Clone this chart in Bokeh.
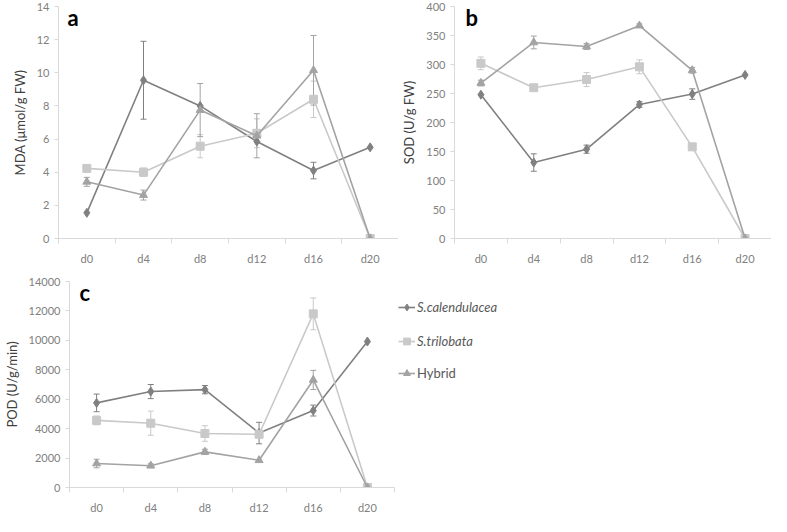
import numpy as np
from bokeh.plotting import figure
from bokeh.models import (Range1d, FixedTicker, ColumnDataSource, Whisker, TeeHead,
                          Legend, LegendItem, Label)
from bokeh.layouts import column, row
from bokeh.embed import file_html
from bokeh.resources import INLINE

# ---------------- data ----------------
days = ["d0", "d4", "d8", "d12", "d16", "d20"]
series_names = ["S.calendulacea", "S.trilobata", "Hybrid"]

mda_cal = [1.55, 9.55, 8.0, 5.85, 4.1, 5.5]
mda_cal_err = [0, 2.35, 0, 0, 0.5, 0]
mda_tri = [4.23, 4.0, 5.57, 6.35, 8.4, 0]
mda_tri_err = [0, 0.25, 0.7, 0.87, 1.1, 0]
mda_hyb = [3.42, 2.62, 7.75, 6.2, 10.15, 0]
mda_hyb_err = [0.27, 0.3, 1.6, 1.33, 2.1, 0]

sod_cal = [248, 131, 154, 231, 249, 282]
sod_cal_err = [0, 15, 7, 5, 9, 0]
sod_tri = [302, 260, 274, 296, 158, 0]
sod_tri_err = [11, 0, 12, 12, 5, 0]
sod_hyb = [268, 338, 331, 367, 290, 0]
sod_hyb_err = [5, 11, 5, 3, 5, 0]

pod_cal = [5750, 6520, 6650, 3700, 5230, 9920]
pod_cal_err = [600, 480, 280, 730, 370, 0]
pod_tri = [4560, 4370, 3670, 3620, 11800, 0]
pod_tri_err = [300, 820, 530, 0, 1080, 0]
pod_hyb = [1630, 1480, 2420, 1850, 7310, 0]
pod_hyb_err = [290, 130, 180, 0, 650, 0]

# ---------------- style ----------------
colors = ["#808080", "#c9c9c9", "#a3a3a3"]
markers = ["diamond", "square", "triangle"]
msizes = [9, 8, 8]
FONT = "Lato"
TICK_COLOR = "#808080"
AXIS_COLOR = "#d9d9d9"
TITLE_COLOR = "#404040"

xs = np.arange(len(days)) + 0.5


def make_panel(width, height, ymax, ystep, ylabel, letter, series, errs,
               bl, br, bt, bb, letter_dx):
    p = figure(width=width, height=height, x_range=Range1d(0, len(days)),
               y_range=Range1d(0, ymax), output_backend="svg",
               toolbar_location=None, min_border_left=bl, min_border_right=br,
               min_border_top=bt, min_border_bottom=bb)
    p.outline_line_color = None
    p.grid.visible = False
    p.background_fill_color = "white"
    p.border_fill_color = "white"

    xa = p.xaxis[0]
    xa.ticker = FixedTicker(ticks=list(xs), minor_ticks=list(range(len(days) + 1)))
    xa.major_label_overrides = {float(x): d for x, d in zip(xs, days)}
    xa.major_tick_in = 0
    xa.major_tick_out = 0
    xa.minor_tick_in = 0
    xa.minor_tick_out = 5
    xa.minor_tick_line_color = AXIS_COLOR
    xa.axis_line_color = AXIS_COLOR
    xa.major_label_text_font = FONT
    xa.major_label_text_font_size = "11px"
    xa.major_label_text_color = TICK_COLOR
    xa.major_label_standoff = 8

    ya = p.yaxis[0]
    ya.ticker = FixedTicker(ticks=list(np.arange(0, ymax + ystep / 2, ystep)))
    ya.minor_tick_line_color = None
    ya.major_tick_in = 0
    ya.major_tick_out = 4
    ya.major_tick_line_color = AXIS_COLOR
    ya.axis_line_color = AXIS_COLOR
    ya.major_label_text_font = FONT
    ya.major_label_text_font_size = "11px"
    ya.major_label_text_color = TICK_COLOR
    ya.major_label_standoff = 5
    ya.axis_label = ylabel
    ya.axis_label_text_font = FONT
    ya.axis_label_text_font_size = "13px"
    ya.axis_label_text_font_style = "normal"
    ya.axis_label_text_color = TITLE_COLOR
    ya.axis_label_standoff = 6

    for vals, err, col, mk, ms in zip(series, errs, colors, markers, msizes):
        vals = np.asarray(vals, dtype=float)
        err = np.asarray(err, dtype=float)
        src = ColumnDataSource(dict(x=xs, y=vals))
        p.line("x", "y", source=src, line_color=col, line_width=1.6)
        p.scatter("x", "y", source=src, marker=mk, size=ms,
                  fill_color=col, line_color=col)
        m = err > 0
        esrc = ColumnDataSource(dict(x=xs[m], upper=(vals + err)[m], lower=(vals - err)[m]))
        w = Whisker(source=esrc, base="x", upper="upper", lower="lower",
                    dimension="height", line_color=col, line_width=1,
                    upper_head=TeeHead(size=6, line_color=col, line_width=1),
                    lower_head=TeeHead(size=6, line_color=col, line_width=1))
        p.add_layout(w)

    p.add_layout(Label(x=0, y=ymax, x_offset=letter_dx, y_offset=3, text=letter,
                       text_font=FONT, text_font_style="bold", text_font_size="22px",
                       text_color="black", text_baseline="top"))
    return p


pa = make_panel(398, 267, 14, 2, "MDA (μmol/g FW)", "a",
                [mda_cal, mda_tri, mda_hyb], [mda_cal_err, mda_tri_err, mda_hyb_err],
                58, 0, 6, 24, 9)
pb = make_panel(373, 267, 400, 50, "SOD (U/g FW)", "b",
                [sod_cal, sod_tri, sod_hyb], [sod_cal_err, sod_tri_err, sod_hyb_err],
                42, 0, 6, 24, 11)
pc = make_panel(396, 249, 14000, 2000, "POD (U/g/min)", "c",
                [pod_cal, pod_tri, pod_hyb], [pod_cal_err, pod_tri_err, pod_hyb_err],
                58, 2, 14, 24, 10)

# ---------------- legend panel ----------------
pl = figure(width=375, height=249, x_range=Range1d(0, 1), y_range=Range1d(0, 1),
            x_axis_location=None, y_axis_location=None, output_backend="svg",
            toolbar_location=None, min_border=0)
pl.outline_line_color = None
pl.grid.visible = False
items = []
for col, mk, name in zip(colors, markers, series_names):
    src = ColumnDataSource(dict(x=[np.nan], y=[np.nan]))
    lr = pl.line("x", "y", source=src, line_color=col, line_width=1.6)
    sr = pl.scatter("x", "y", source=src, marker=mk, size=6,
                    fill_color=col, line_color=col)
    items.append(LegendItem(label=name, renderers=[lr, sr]))

common = dict(border_line_color=None, background_fill_alpha=0, padding=0, margin=0,
              glyph_width=17, glyph_height=20, label_height=20, label_standoff=2,
              spacing=14, label_text_font=FONT, label_text_font_size="13px",
              label_text_color="#595959")
leg1 = Legend(items=items[:2], location=(2, 136), label_text_font_style="italic", **common)
leg2 = Legend(items=items[2:], location=(2, 104), label_text_font_style="normal", **common)
pl.add_layout(leg1)
pl.add_layout(leg2)

layout = column(row(pa, pb, spacing=0), row(pc, pl, spacing=0), spacing=0)

open("out.html", "w").write(file_html(layout, INLINE))
